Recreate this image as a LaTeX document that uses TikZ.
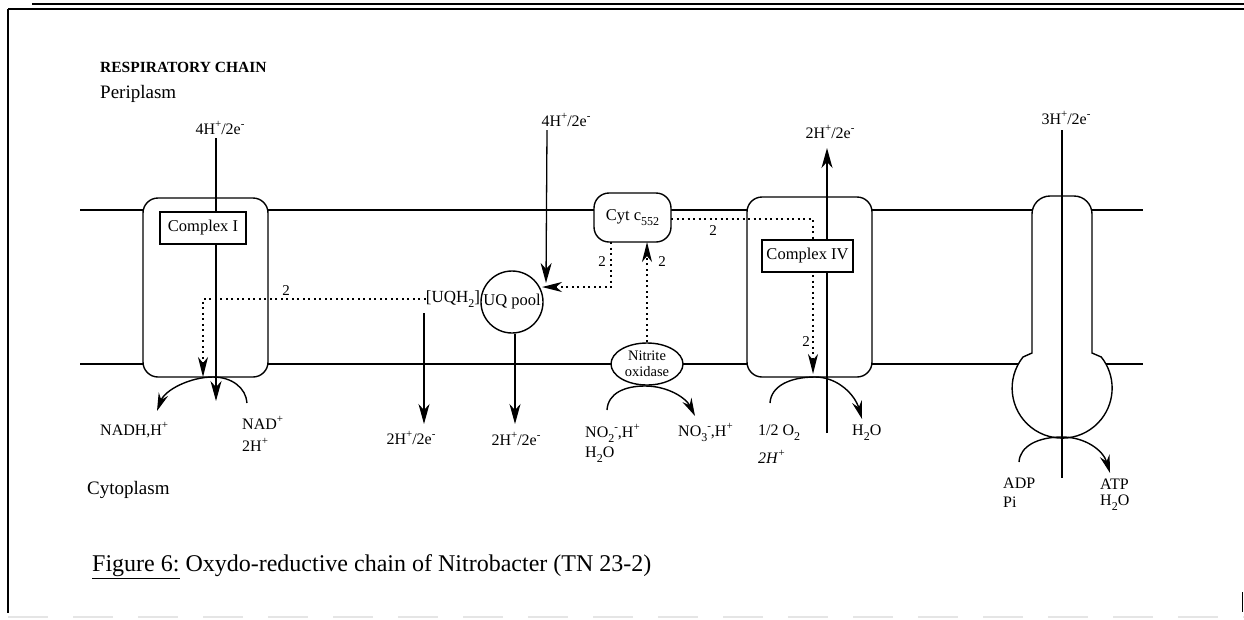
\documentclass[tikz,border=0pt]{standalone}
\usepackage{fontspec}
\setmainfont{Liberation Serif}
\usetikzlibrary{arrows.meta,shapes.geometric}
\newcommand{\sps}[1]{\raisebox{0.45em}{\fontsize{11}{12}\selectfont #1}}
\newcommand{\sbs}[1]{\raisebox{-0.3em}{\fontsize{12}{13}\selectfont #1}}
\begin{document}
\begin{tikzpicture}[x=1pt,y=1pt,yscale=-1,
  memb/.style={line width=1.4pt},
  cbox/.style={draw, line width=1.4pt, fill=white, rounded corners=15pt, inner sep=0pt},
  labbox/.style={draw, line width=1.2pt, fill=white, inner sep=0pt, font=\fontsize{16.5}{18}\selectfont},
  lab/.style={inner sep=0pt, font=\fontsize{16}{18}\selectfont},
  num/.style={inner sep=0pt, font=\fontsize{15}{16}\selectfont},
  arr/.style={line width=1.3pt, -{Stealth[length=20pt,width=11pt,inset=6pt]}},
  dots/.style={line width=1.5pt, dash pattern=on 2pt off 3.5pt},
  darr/.style={dots, -{Stealth[length=20pt,width=10pt,inset=6pt]}},
  rarr/.style={line width=1.4pt, -{Stealth[length=18pt,width=10pt,inset=6pt]}}
]
\useasboundingbox (0,0) rectangle (1244,619);
% frame
\draw[line width=2pt] (32,4) -- (1244,4);
\draw[line width=1.3pt] (8,9) -- (1244,9);
\draw[line width=1.3pt] (8,9) -- (8,613);
\draw[line width=1pt] (1242,592) -- (1242,612);
\draw[gray!20, line width=1.2pt, dash pattern=on 40pt off 25pt] (8,617) -- (1244,617);

% titles
\node[anchor=west, inner sep=0pt, font=\fontsize{15.5}{17}\selectfont\bfseries] (title) at (100,67) {RESPIRATORY CHAIN};
\node[anchor=west, inner sep=0pt, font=\fontsize{19}{22}\selectfont] (peri) at (100,94) {Periplasm};
\node[anchor=west, inner sep=0pt, font=\fontsize{19}{22}\selectfont] (cyto) at (87,490) {Cytoplasm};
\node[anchor=west, inner sep=0pt, font=\fontsize{24}{28}\selectfont] (cap) at (92,567) {\underline{Figure 6:} Oxydo-reductive chain of Nitrobacter (TN 23-2)};

% membrane
\draw[memb] (80,210) -- (1143,210);
\draw[memb] (80,364) -- (1143,364);

% complexes
\node[cbox, minimum width=125pt, minimum height=179pt] (c1) at (205.5,287.5) {};
\node[cbox, minimum width=125pt, minimum height=180pt] (c4) at (809.5,287) {};
\node[cbox, minimum width=77pt, minimum height=49pt, font=\fontsize{16.5}{18}\selectfont] (cyt) at (632.5,217.5) {Cyt c\sbs{552}};
\node[draw, ellipse, line width=1.4pt, fill=white, minimum width=72pt, minimum height=42pt, inner sep=0pt, align=center, font=\fontsize{14.5}{16}\selectfont] (nox) at (647,364) {Nitrite\\oxidase};
\node[draw, circle, line width=1.4pt, fill=white, minimum size=62pt, inner sep=0pt, font=\fontsize{16.5}{18}\selectfont] (uq) at (512,302) {UQ pool};
% ATP synthase
\draw[line width=1.4pt, fill=white] (1032,353) -- (1023,357)
  arc[start angle=218.5, end angle=-38.5, radius=50] -- (1092,353)
  [rounded corners=18pt] -- (1092,196) -- (1032,196) [sharp corners] -- cycle;

% labels
\node[lab] (t4a) at (220,128) {4H\sps{+}/2e\sps{-}};
\node[lab] (t4b) at (566,120) {4H\sps{+}/2e\sps{-}};
\node[lab] (t2) at (830,132) {2H\sps{+}/2e\sps{-}};
\node[lab] (t3) at (1066,118) {3H\sps{+}/2e\sps{-}};
\node[lab, font=\fontsize{17}{18}\selectfont] (uqh) at (453,299) {[UQH\sbs{2}]};
\node[lab] (b1) at (411,438) {2H\sps{+}/2e\sps{-}};
\node[lab] (b2) at (516,439) {2H\sps{+}/2e\sps{-}};
\node[lab, anchor=west] (nadh) at (100,430) {NADH,H\sps{+}};
\node[lab, anchor=west] (nad) at (242,423) {NAD\sps{+}};
\node[lab, anchor=west] (nad2) at (242,445) {2H\sps{+}};
\node[lab, anchor=west] (no2) at (585,433) {NO\sbs{2}\sps{-},H\sps{+}};
\node[lab, anchor=west] (h2oa) at (585,455) {H\sbs{2}O};
\node[lab, anchor=west] (no3) at (678,432) {NO\sbs{3}\sps{-},H\sps{+}};
\node[lab, anchor=west] (o2) at (758,433) {1/2 O\sbs{2}};
\node[lab, anchor=west, font=\fontsize{16}{18}\selectfont\itshape] (o2h) at (758,457) {2H\sps{+}};
\node[lab, anchor=west] (h2ob) at (852,433) {H\sbs{2}O};
\node[lab, anchor=west] (adp) at (1003,483) {ADP};
\node[lab, anchor=west] (pi) at (1003,502) {Pi};
\node[lab, anchor=west] (atp) at (1100,484) {ATP};
\node[lab, anchor=west] (h2oc) at (1100,503) {H\sbs{2}O};

% coordinates
\coordinate (c1top) at (216,138);
\coordinate (c1bot) at (216,401);
\coordinate (c1d) at (203,299);
\coordinate (c1dend) at (203,377);
\coordinate (uqhl) at (424,313);
\coordinate (uqhb) at (424,424);
\coordinate (uqb) at (515,424);
\coordinate (t4bl) at (547,130);
\coordinate (t4be) at (546,283);
\coordinate (cytd) at (611,242);
\coordinate (cytdc) at (611,287);
\coordinate (uqr) at (542,287);
\coordinate (cytn) at (647,242);
\coordinate (cyte) at (671,219);
\coordinate (c4c) at (813,219);
\coordinate (c4d) at (813,374);
\coordinate (c4bot) at (827,433);
\coordinate (c4top) at (827,148);
\coordinate (atptop) at (1062,130);
\coordinate (atpbot) at (1062,478);

% main lines
\draw[arr] (c1top) -- (c1bot);
\draw[line width=1.3pt] (c4bot) -- (827,200);
\draw[arr] (827,200) -- (c4top);
\draw[line width=1.3pt] (atptop) -- (atpbot);
\draw[arr] (uqhl) -- (uqhb);
\draw[arr] (uq.south -| uqb) -- (uqb);
\draw[arr] (t4bl) -- (t4be);

% dotted electron paths
\draw[darr] (uqh.west) -- (c1d) -- (c1dend);
\draw[darr] (cytd) -- (cytdc) -- (uqr);
\draw[darr] (nox.north) -- (cytn);
\draw[darr] (cyte) -- (c4c) -- (c4d);

% label boxes
\node[labbox, minimum width=86pt, minimum height=32pt] (c1lab) at (203,228) {Complex I};
\node[labbox, minimum width=91pt, minimum height=32pt] (c4lab) at (807.5,256) {Complex IV};

% numbers
\node[num] (n1) at (286,291) {2};
\node[num] (n2) at (602,262) {2};
\node[num] (n3) at (662,262) {2};
\node[num] (n4) at (713,231) {2};
\node[num] (n5) at (806,342) {2};

% reaction arcs
\draw[rarr] (247,403) .. controls (246,388) and (232,377) .. (213,377) .. controls (190,377) and (165,390) .. (157,411);
\draw[rarr] (607,410) .. controls (608,393) and (625,386) .. (645,386) .. controls (668,386) and (686,398) .. (695,416);
\draw[rarr] (770,403) .. controls (771,386) and (790,377) .. (815,377) .. controls (838,377) and (855,395) .. (862,419);
\draw[rarr] (1019,462) .. controls (1020,446) and (1038,437) .. (1062,437) .. controls (1085,437) and (1103,450) .. (1110,473);
\end{tikzpicture}
\end{document}
